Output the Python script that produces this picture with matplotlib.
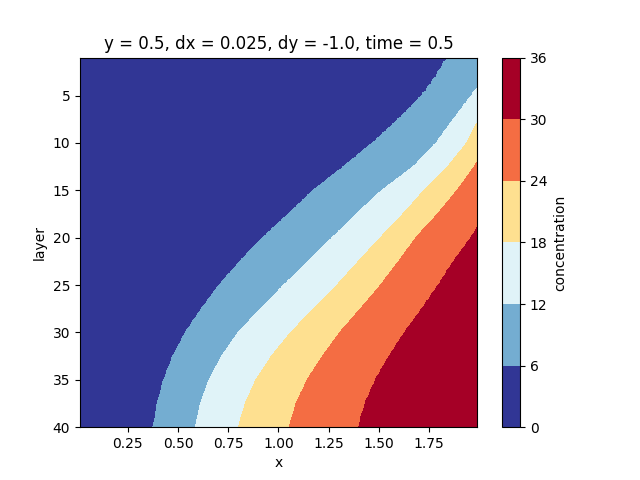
import numpy as np
import matplotlib
matplotlib.use("Agg")
import matplotlib.pyplot as plt

# grid of the model (cell centres)
x = np.arange(0.0125, 2.0, 0.025)

# contour levels of the concentration
levels = [0, 6, 12, 18, 24, 30, 36]

layers = [1, 3, 5, 7.5, 10, 12.5, 15, 17.5, 20, 22.5, 25, 27.5, 30, 32.5, 35, 37.5, 40]

# x position where the concentration passes each level, per layer
edge_6 = [1.846, 1.791, 1.721, 1.603, 1.474, 1.330, 1.179, 1.055, 0.925,
          0.812, 0.709, 0.620, 0.540, 0.478, 0.432, 0.400, 0.379]
edge_12 = [2.093, 2.034, 1.964, 1.875, 1.788, 1.675, 1.518, 1.389, 1.270,
           1.149, 1.028, 0.912, 0.800, 0.718, 0.655, 0.612, 0.587]
edge_18 = [2.133, 2.094, 2.054, 1.998, 1.939, 1.845, 1.727, 1.622, 1.509,
           1.400, 1.293, 1.177, 1.062, 0.966, 0.888, 0.835, 0.800]
edge_24 = [2.259, 2.214, 2.169, 2.109, 2.044, 1.975, 1.889, 1.791, 1.683,
           1.598, 1.508, 1.408, 1.305, 1.219, 1.143, 1.087, 1.053]
edge_30 = [2.35, 2.32, 2.283, 2.239, 2.189, 2.139, 2.089, 2.03, 1.955,
           1.868, 1.793, 1.711, 1.625, 1.548, 1.480, 1.428, 1.395]
edge_36 = [3.0, 2.95, 2.9, 2.85, 2.8, 2.75, 2.7, 2.65, 2.6,
           2.55, 2.5, 2.45, 2.4, 2.35, 2.3, 2.25, 2.2]

# fine layer axis so the band edges follow the read points
z = np.linspace(1, 40, 157)
edges = [np.zeros_like(z)] + [np.interp(z, layers, e) for e in
                              (edge_6, edge_12, edge_18, edge_24, edge_30, edge_36)]
edges = np.column_stack(edges)
conc = np.array([np.interp(x, row, levels) for row in edges])

fig, ax = plt.subplots(figsize=(6.4, 4.8), dpi=100)
cs = ax.contourf(x, z, conc, levels=levels,
                 cmap=plt.get_cmap('RdYlBu_r', len(levels) - 1))
cb = fig.colorbar(cs, ax=ax)
cb.set_label('concentration')
ax.set_ylim(40, 1)
ax.set_xlabel('x')
ax.set_ylabel('layer')
ax.set_title('y = 0.5, dx = 0.025, dy = -1.0, time = 0.5')

fig.savefig('out.png')
